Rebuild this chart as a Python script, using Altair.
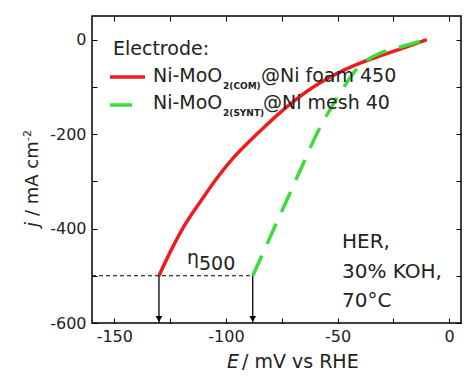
import altair as alt
import pandas as pd

# ---- data ----
red_E = [-130, -125, -119, -111, -104, -97, -89, -83, -77, -70, -62, -55, -47, -39, -30, -20, -10]
red_j = [-500, -450, -397, -340, -293, -252, -213, -186, -160, -132, -104, -84, -64, -48, -33, -17, 0]
green_E = [-88, -84, -80, -76, -72, -68, -64, -60, -56, -52, -48, -44, -40, -35, -30, -20, -10]
green_j = [-500, -458, -416, -374, -332, -290, -248, -206, -170, -137, -107, -78, -55, -38, -27, -13, 0]
eta_E = [-130, -88]
eta_j = -500
x_ticks = [-150, -125, -100, -75, -50, -25, 0]
y_ticks = [-600, -500, -400, -300, -200, -100, 0]
x_domain = [-160, 5.3]
y_domain = [-600, 50]

FONT = "DejaVu Sans"
TXT = "#222222"
RED = "#ee1c1c"
GREEN = "#3cdc3c"
W, H = 369, 307

xs = alt.Scale(domain=x_domain, nice=False, zero=False)
ys = alt.Scale(domain=y_domain, nice=False, zero=False)

common_axis = dict(domain=False, grid=False, tickSize=5, offset=-5, tickColor="black",
                   tickWidth=1, title=None, labelFont=FONT, labelFontSize=16, labelColor=TXT)

ax_bottom = alt.Axis(orient="bottom", values=x_ticks, labelPadding=5,
                     labelExpr="datum.value % 50 == 0 ? '' + datum.value : ''", **common_axis)
ax_left = alt.Axis(orient="left", values=y_ticks, labelPadding=6,
                   labelExpr="datum.value % 200 == 0 ? '' + datum.value : ''", **common_axis)
ax_top = alt.Axis(orient="top", values=x_ticks, labels=False, **common_axis)
ax_right = alt.Axis(orient="right", values=y_ticks, labels=False, **common_axis)

red_df = pd.DataFrame({"E": red_E, "j": red_j})
green_df = pd.DataFrame({"E": green_E, "j": green_j})

red = alt.Chart(red_df).mark_line(color=RED, strokeWidth=3.5, interpolate="monotone").encode(
    x=alt.X("E:Q", scale=xs, axis=ax_bottom),
    y=alt.Y("j:Q", scale=ys, axis=ax_left),
    order="E:Q",
)
green = alt.Chart(green_df).mark_line(color=GREEN, strokeWidth=3.5, strokeDash=[22, 13],
                                      strokeCap="butt", interpolate="monotone").encode(
    x=alt.X("E:Q", scale=xs, axis=ax_top),
    y=alt.Y("j:Q", scale=ys, axis=ax_right),
    order="E:Q",
)

hline_df = pd.DataFrame({"E1": [x_domain[0]], "E2": [max(eta_E)], "j": [eta_j]})
hline = alt.Chart(hline_df).mark_rule(color="black", strokeWidth=1.2, strokeDash=[4, 3]).encode(
    x=alt.X("E1:Q", axis=None), x2="E2:Q", y=alt.Y("j:Q", axis=None))

arrow_df = pd.DataFrame({"E": eta_E, "j1": [eta_j] * 2, "j2": [y_domain[0]] * 2})
arrows = alt.Chart(arrow_df).mark_rule(color="black", strokeWidth=1.3).encode(
    x=alt.X("E:Q", axis=None), y=alt.Y("j1:Q", axis=None), y2="j2:Q")
heads = alt.Chart(arrow_df).mark_point(shape="triangle-down", filled=True, color="black",
                                       opacity=1, size=45, yOffset=-4).encode(
    x=alt.X("E:Q", axis=None), y=alt.Y("j2:Q", axis=None))

one = pd.DataFrame({"a": [0]})


def label(text, px, py, size, **kw):
    props = dict(text=text, font=FONT, fontSize=size, align="left", baseline="alphabetic",
                 color=TXT)
    props.update(kw)
    return alt.Chart(one).mark_text(**props).encode(x=alt.value(px), y=alt.value(py))


def seg(px1, px2, py, color, **kw):
    return alt.Chart(one).mark_rule(color=color, strokeWidth=3.5, **kw).encode(
        x=alt.value(px1), x2=alt.value(px2), y=alt.value(py))


texts = [
    # legend
    label("Electrode:", 21, 39, 19),
    seg(18, 53, 61, RED),
    label("Ni-MoO", 61, 66, 19),
    label("2(COM)", 131, 73, 9, fontWeight="bold"),
    label("@Ni foam 450", 169, 66, 19),
    seg(18, 53, 89, GREEN, strokeDash=[22, 13], strokeCap="butt"),
    label("Ni-MoO", 61, 93, 19),
    label("2(SYNT)", 131, 100, 9, fontWeight="bold"),
    label("@Ni mesh 40", 171, 93, 19),
    # eta label
    label("η", 95, 248, 19),
    label("500", 107, 254, 19),
    # conditions
    label(["HER,", "30% KOH,", "70°C"], 250, 232, 20, lineHeight=29.5),
    # x title
    label("E", 147, 352, 19, align="right", fontStyle="italic"),
    label("/ mV vs RHE", 150, 352, 19),
    # y title
    label("j", -54, 211, 18, angle=270, fontStyle="italic"),
    label("/ mA cm", -54, 200, 18, angle=270),
    label("-2", -61, 125, 11, angle=270),
]

chart = alt.layer(red, green, hline, arrows, heads, *texts).resolve_axis(
    x="independent", y="independent"
).properties(
    width=W, height=H,
    autosize=alt.AutoSizeParams(type="none"),
    padding={"left": 84, "top": 8, "right": 1, "bottom": 52},
).configure_view(stroke="black", strokeWidth=1.5)

chart.save("out.html", embed_options={"renderer": "svg", "actions": False})
